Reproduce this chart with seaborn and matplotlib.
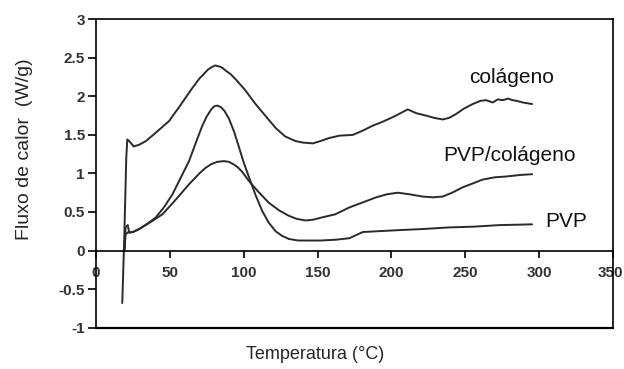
import numpy as np
import pandas as pd
import matplotlib
matplotlib.use("Agg")
import matplotlib.pyplot as plt
import matplotlib.transforms as mtransforms
import seaborn as sns

# valeurs (DSC)
col_t = [17.8, 19.2, 20.5, 21.2, 22.5, 25.5, 29, 33.8, 40, 49.5, 57, 65.3, 70, 73, 76, 78.5, 80.6, 83, 85.5,
         88, 91, 94.6, 101, 108, 115, 121.6, 128, 135, 140, 146.8, 152, 158, 164.9, 173.9, 180, 187.4,
         194, 200.9, 206, 211, 217, 223.4, 229, 234.7, 239, 243.7, 249, 255, 260, 264,
         268.5, 272, 275.3, 279, 282, 285, 288.9, 292, 295.2]
col_f = [-0.68, 0.2, 1.2, 1.44, 1.42, 1.35, 1.37, 1.42, 1.52, 1.68, 1.88, 2.11, 2.23, 2.29, 2.35, 2.38, 2.40, 2.39, 2.37,
         2.33, 2.29, 2.22, 2.08, 1.90, 1.74, 1.59, 1.48, 1.42, 1.40, 1.39, 1.42, 1.46, 1.49, 1.50, 1.55, 1.62,
         1.67, 1.73, 1.78, 1.83, 1.78, 1.75, 1.72, 1.70, 1.72, 1.77, 1.84, 1.90, 1.94, 1.95,
         1.92, 1.96, 1.95, 1.97, 1.95, 1.94, 1.92, 1.91, 1.90]

pvpcol_t = [19.3, 20.0, 22.0, 25, 29.3, 37, 45, 54, 63, 70, 74, 78, 82, 86.7, 90, 93, 96, 99,
            103.6, 110, 117, 124, 130.6, 136, 141.9, 147, 153, 162, 171.6, 180, 189.6,
            197, 204.3, 212, 221.2, 228, 234.7, 241, 248.2, 255, 261.7, 270, 277.5,
            287, 295.2]
pvpcol_f = [0.05, 0.21, 0.24, 0.24, 0.28, 0.37, 0.47, 0.66, 0.86, 1.00, 1.07, 1.12, 1.15, 1.16, 1.15, 1.12, 1.08, 1.02,
            0.90, 0.76, 0.62, 0.52, 0.45, 0.41, 0.39, 0.40, 0.43, 0.47, 0.56, 0.62, 0.69,
            0.73, 0.75, 0.73, 0.70, 0.69, 0.70, 0.75, 0.82, 0.87, 0.92, 0.95, 0.96,
            0.98, 0.99]

pvp_t = [19.5, 20.0, 21.5, 22.5, 25, 29.3, 35, 40.5, 46, 51.8, 57, 63, 68, 72, 75, 78, 80, 82.2, 84.5,
         87, 90, 93.5, 96.8, 100, 103.6, 108, 112.6, 117, 121.6, 126, 130.6, 137, 144, 152,
         162, 171.6, 176, 180.6, 190, 205.4, 222, 239, 256, 273, 285, 295.2]
pvp_f = [0.0, 0.30, 0.33, 0.23, 0.24, 0.28, 0.35, 0.43, 0.56, 0.73, 0.93, 1.16, 1.42, 1.62, 1.74, 1.83, 1.87, 1.88, 1.86,
         1.81, 1.71, 1.54, 1.34, 1.14, 0.95, 0.72, 0.51, 0.36, 0.25, 0.19, 0.15, 0.13, 0.13, 0.13,
         0.14, 0.16, 0.20, 0.24, 0.25, 0.265, 0.28, 0.30, 0.31, 0.33, 0.335, 0.34]

series_names = ["colágeno", "PVP/colágeno", "PVP"]
label_x = [281, 280, 318]
label_y = [2.24, 1.23, 0.38]

x_ticks = [0, 50, 100, 150, 200, 250, 300, 350]
y_ticks = [-1, -0.5, 0, 0.5, 1, 1.5, 2, 2.5, 3]
y_ticklabels = ["-1", "-0.5", "0", "0.5", "1", "1.5", "2", "2.5", "3"]

df = pd.concat([
    pd.DataFrame({"T": col_t, "F": col_f, "amostra": series_names[0]}),
    pd.DataFrame({"T": pvpcol_t, "F": pvpcol_f, "amostra": series_names[1]}),
    pd.DataFrame({"T": pvp_t, "F": pvp_f, "amostra": series_names[2]}),
])

sns.set_style("white")
plt.rcParams["font.family"] = ["Liberation Sans", "DejaVu Sans"]

fig = plt.figure(figsize=(6.24, 3.69), dpi=100)
ax = fig.add_axes([0.1538, 0.112, 0.8287, 0.836])

for name in series_names:
    sns.lineplot(data=df[df["amostra"] == name], x="T", y="F", sort=False,
                 estimator=None, color="#2a2a2a", lw=1.4, ax=ax)

for name, lx, ly in zip(series_names, label_x, label_y):
    ax.text(lx, ly, name, fontsize=15, ha="center", va="center", color="#111111")

ax.set_xlim(0, 350)
ax.set_ylim(-1, 3)

# axe des x qui passe par zéro, cadre complet autour
ax.spines["bottom"].set_position(("data", 0))
for s in ["top", "right", "left", "bottom"]:
    ax.spines[s].set_color("black")
    ax.spines[s].set_linewidth(1.2)
ax.axhline(-1, color="black", lw=1.6, clip_on=False)

ax.set_xticks(x_ticks)
ax.set_xticklabels([str(t) for t in x_ticks], fontweight="bold", fontsize=11)
ax.set_yticks(y_ticks)
ax.set_yticklabels(y_ticklabels, fontweight="bold", fontsize=11)
ax.tick_params(axis="x", direction="out", length=5, width=1.2, pad=6, bottom=True, colors="black")
ax.tick_params(axis="y", direction="out", length=6, width=1.2, pad=2, left=True, colors="black")
for lab in ax.get_xticklabels() + ax.get_yticklabels():
    lab.set_color("#333333")
# le dernier label touche le bord droit
last = ax.get_xticklabels()[-1]
last.set_transform(last.get_transform() + mtransforms.ScaledTranslation(-2 / 72, 0, fig.dpi_scale_trans))

ax.set_xlabel("Temperatura (°C)", fontsize=13)
ax.set_ylabel("Fluxo de calor  (W/g)", fontsize=14)
ax.xaxis.set_label_coords(0.424, -0.06)
ax.yaxis.set_label_coords(-0.122, 0.58)
ax.grid(False)

fig.savefig("out.png", dpi=100)
